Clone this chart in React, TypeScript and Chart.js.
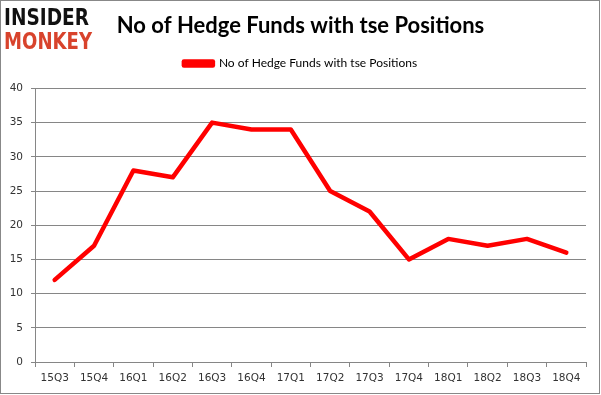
import React, { useEffect, useRef } from "react";
import { Chart, registerables } from "chart.js";

Chart.register(...registerables);

const categories = ["15Q3", "15Q4", "16Q1", "16Q2", "16Q3", "16Q4", "17Q1", "17Q2", "17Q3", "17Q4", "18Q1", "18Q2", "18Q3", "18Q4"];
const hedgeFunds = [12, 17, 28, 27, 35, 34, 34, 25, 22, 15, 18, 17, 18, 16];
const seriesLabel = "No of Hedge Funds with tse Positions";
const titleText = "No of Hedge Funds with tse Positions";

const legendSpace = {
  id: "legendSpace",
  beforeInit(chart: any) {
    const legend = chart.legend;
    if (!legend) return;
    const orig = legend.fit;
    legend.fit = function () {
      orig.call(this);
      this.height += 9;
    };
  },
};

export default function App() {
  const ref = useRef<HTMLCanvasElement | null>(null);

  useEffect(() => {
    document.body.style.margin = "0";
    const canvas = ref.current;
    if (!canvas) return;
    const chart = new Chart(canvas, {
      type: "line",
      data: {
        labels: categories,
        datasets: [
          {
            label: seriesLabel,
            data: hedgeFunds,
            borderColor: "#ff0000",
            backgroundColor: "#ff0000",
            borderWidth: 4.5,
            pointRadius: 0,
            tension: 0,
            borderJoinStyle: "round",
            borderCapStyle: "round",
          },
        ],
      },
      plugins: [legendSpace],
      options: {
        animation: false,
        responsive: false,
        maintainAspectRatio: false,
        layout: { padding: { top: 0, left: 0, right: 0, bottom: 0 } },
        plugins: {
          title: {
            display: true,
            text: titleText,
            color: "#000",
            font: { family: "Lato", size: 22, weight: "bold" },
            padding: { top: 13, bottom: 10 },
          },
          legend: {
            display: true,
            labels: {
              color: "#000",
              font: { family: "Lato", size: 12 },
              boxWidth: 29,
              boxHeight: 4,
              padding: 8,
            },
          },
          tooltip: { enabled: false },
        },
        scales: {
          x: {
            offset: true,
            grid: {
              offset: true,
              drawOnChartArea: false,
              drawTicks: true,
              tickLength: 5,
              color: "#868686",
            },
            border: { color: "#868686", width: 1 },
            ticks: {
              color: "#333",
              font: { family: "DejaVu Sans", size: 10.5 },
              padding: 5,
              maxRotation: 0,
              autoSkip: false,
            },
            afterFit: (scale: any) => {
              scale.height = 33;
            },
          },
          y: {
            min: 0,
            max: 40,
            ticks: {
              stepSize: 5,
              color: "#333",
              font: { family: "DejaVu Sans", size: 10.5 },
              padding: 8,
            },
            grid: { color: "#868686", tickLength: 4 },
            border: { color: "#868686", width: 1 },
            afterFit: (scale: any) => {
              scale.width = 35;
            },
          },
          yRight: {
            axis: "y",
            type: "linear",
            position: "right",
            min: 0,
            max: 40,
            grid: { display: false, drawTicks: false },
            border: { display: false },
            ticks: { display: false },
            afterFit: (scale: any) => {
              scale.width = 15;
            },
          },
        },
      },
    });
    return () => chart.destroy();
  }, []);

  return (
    <div style={{ position: "relative", width: 601, height: 395, background: "#fff" }}>
      <canvas ref={ref} width={601} height={395} style={{ position: "absolute", left: 0, top: 0 }} />
      <svg width={110} height={56} style={{ position: "absolute", left: 0, top: 0 }}>
        <text x={4} y={25} fontFamily="DejaVu Sans" fontWeight="bold" fontSize={23} fill="#111" textLength={85} lengthAdjust="spacingAndGlyphs">INSIDER</text>
        <text x={4} y={49} fontFamily="DejaVu Sans" fontWeight="bold" fontSize={23} fill="#d8432c" textLength={88} lengthAdjust="spacingAndGlyphs">MONKEY</text>
      </svg>
      <div style={{ position: "absolute", left: 0, top: 0, width: 600, height: 394, boxSizing: "border-box", border: "1px solid #888", pointerEvents: "none" }} />
    </div>
  );
}
